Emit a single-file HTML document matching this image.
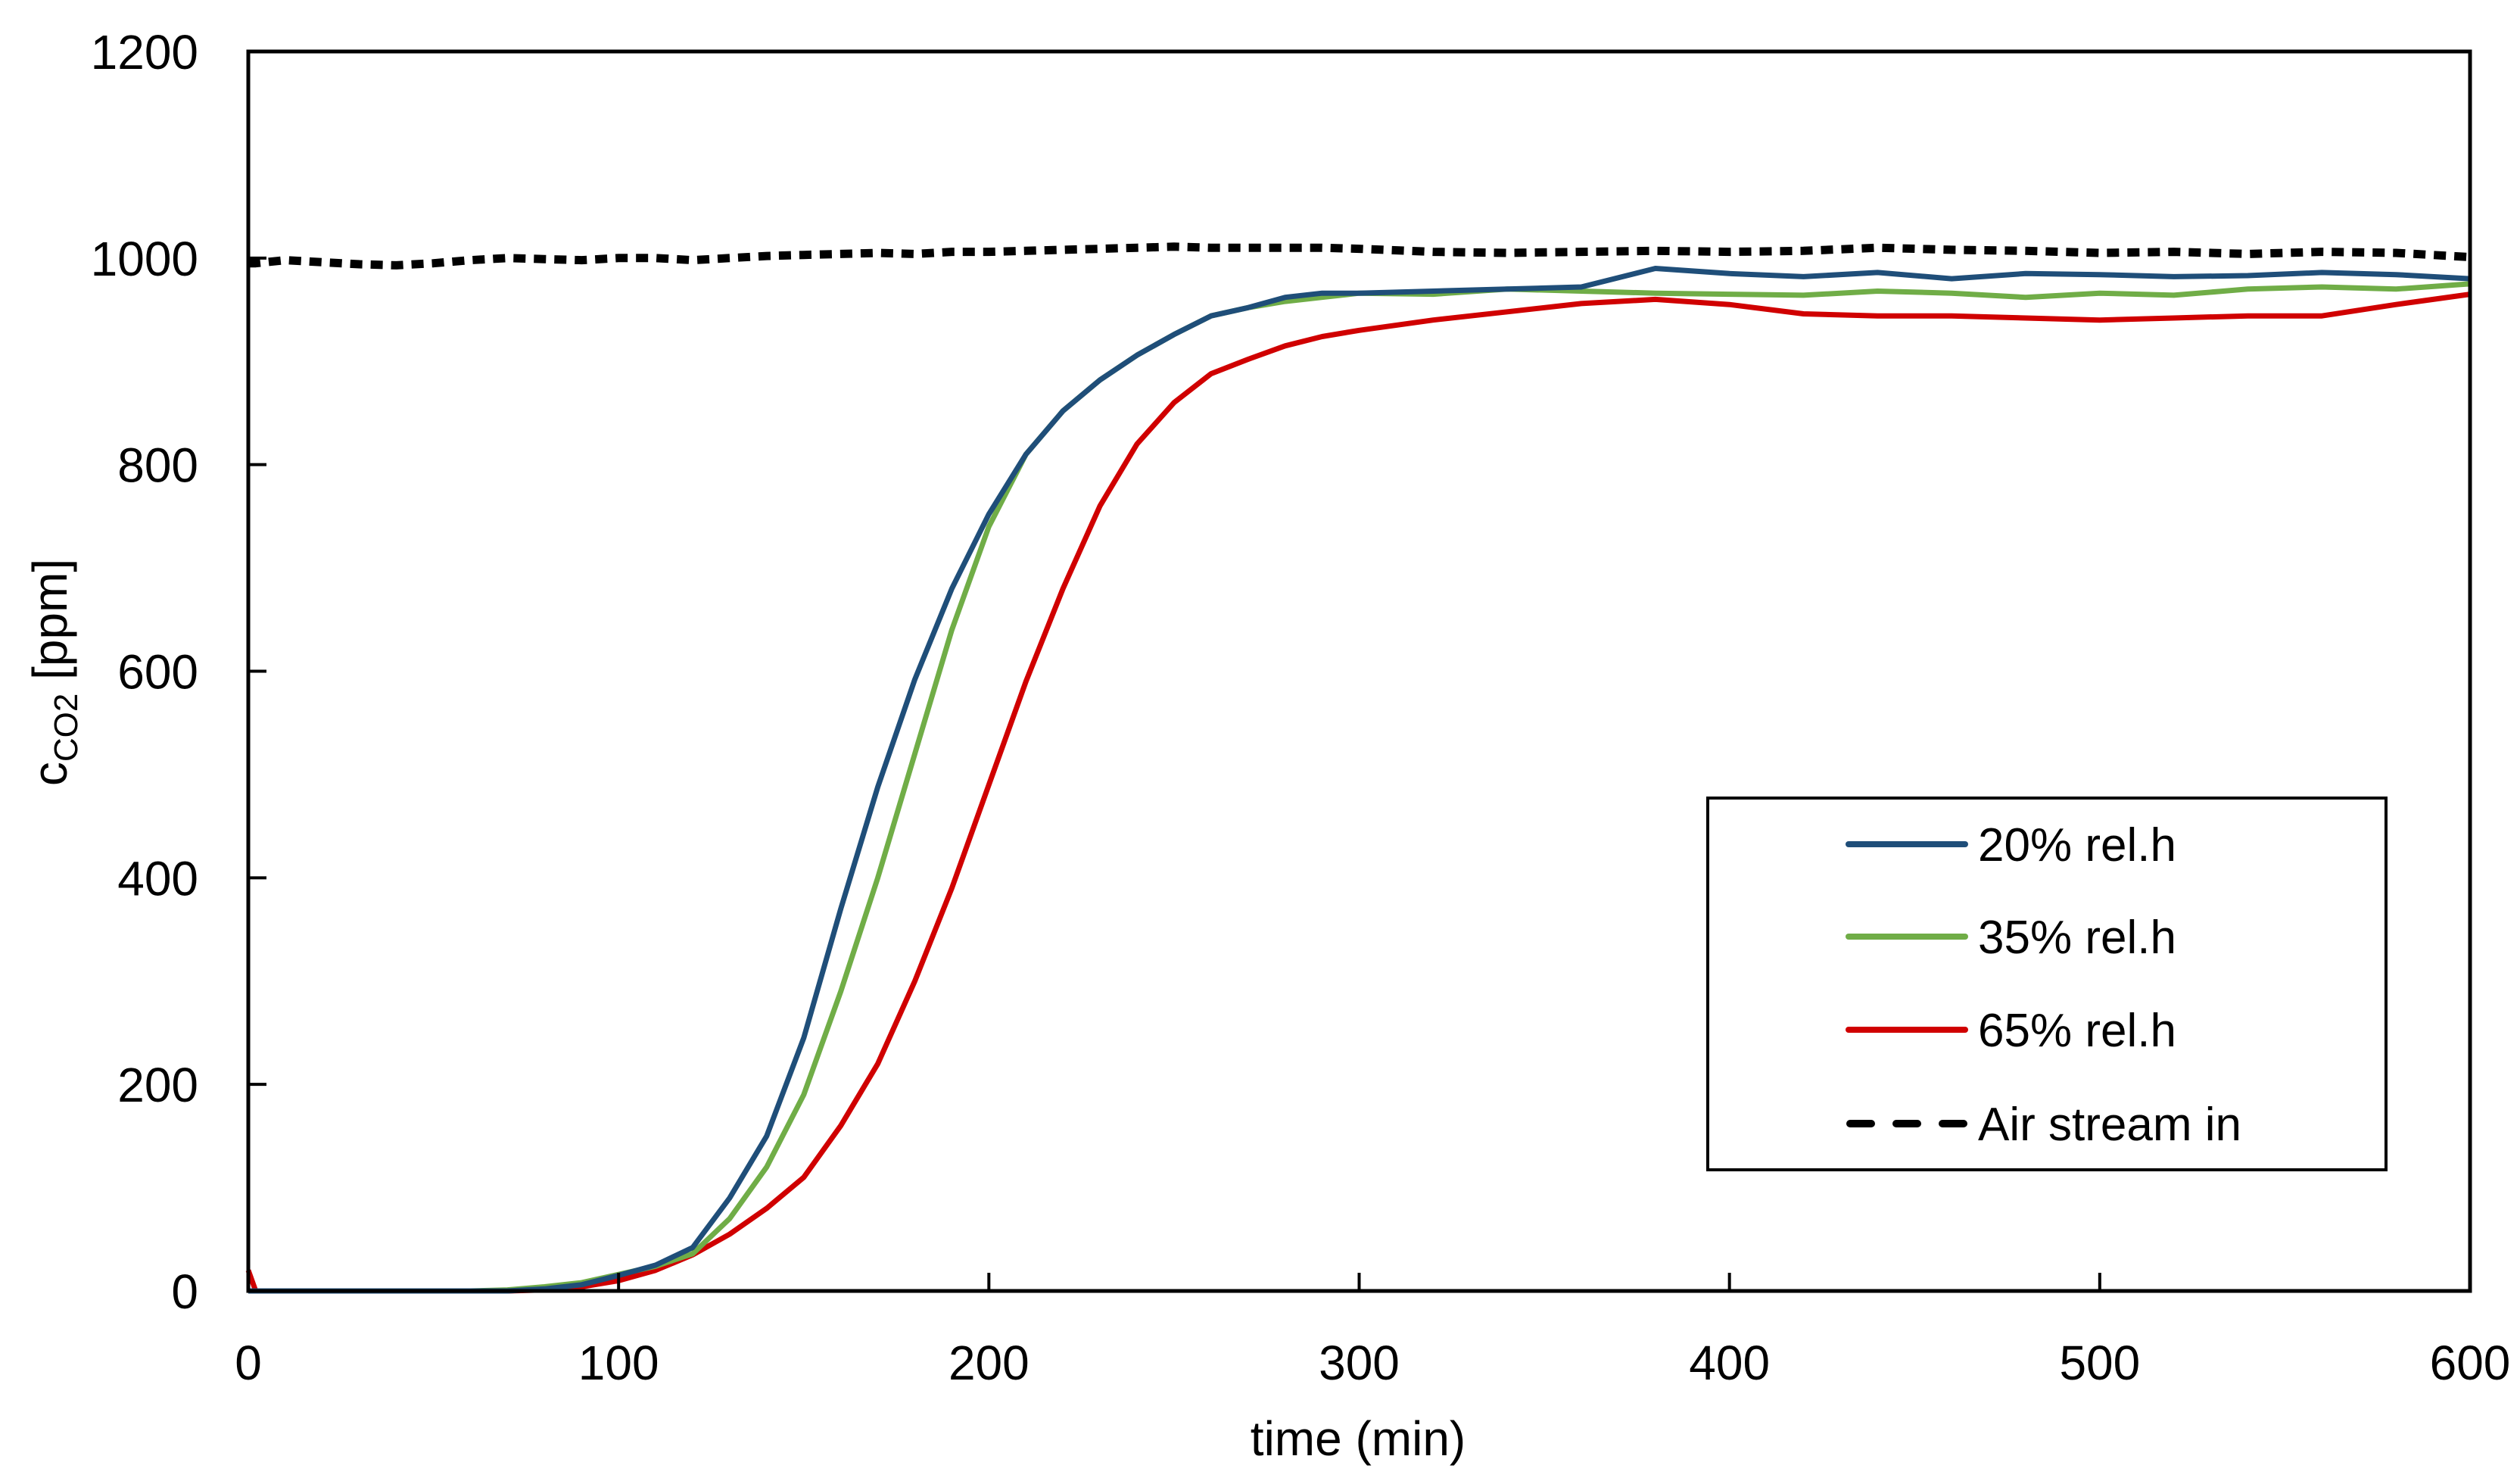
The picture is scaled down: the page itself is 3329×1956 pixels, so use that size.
<!DOCTYPE html>
<html><head><meta charset="utf-8"><style>
html,body{margin:0;padding:0;background:#fff}
svg{display:block;font-family:"Liberation Sans",sans-serif}
</style></head><body>
<svg id="chart" width="3329" height="1956" viewBox="0 0 3329 1956" xmlns="http://www.w3.org/2000/svg">
<rect x="0" y="0" width="3329" height="1956" fill="#fff"/>
<g id="series"></g>
<g id="axes"></g>
<rect x="328" y="68" width="2935" height="1637" fill="none" stroke="#000" stroke-width="5"/>
<text x="1794" y="1922" font-size="64" text-anchor="middle">time (min)</text>
<text transform="translate(88,888) rotate(-90)" font-size="64" text-anchor="middle">c<tspan font-size="44" dy="14">CO2</tspan><tspan dy="-14"> [ppm]</tspan></text>
<g>
<rect x="2256" y="1054" width="896" height="491" fill="#fff" stroke="#000" stroke-width="4"/>
<line x1="2442" y1="1115" x2="2596" y2="1115" stroke="#1f4e79" stroke-width="8" stroke-linecap="round"/>
<text x="2613" y="1137" font-size="62">20% rel.h</text>
<line x1="2442" y1="1237" x2="2596" y2="1237" stroke="#70ad47" stroke-width="8" stroke-linecap="round"/>
<text x="2613" y="1259" font-size="62">35% rel.h</text>
<line x1="2442" y1="1360" x2="2596" y2="1360" stroke="#d00000" stroke-width="8" stroke-linecap="round"/>
<text x="2613" y="1382" font-size="62">65% rel.h</text>
<line x1="2444" y1="1484" x2="2596" y2="1484" stroke="#000" stroke-width="10" stroke-linecap="round" stroke-dasharray="28 33"/>
<text x="2613" y="1506" font-size="62">Air stream in</text>
</g>
</svg>
<script>
const times = [0,2,10,20,30,40,50,60,70,80,90,100,110,120,130,140,150,160,170,180,190,200,210,220,230,240,250,260,270,280,290,300,320,340,360,380,400,420,440,460,480,500,520,540,560,580,600];
const rh20 = [0,0,0,0,0,0,0,0,0,2,6,15,25,42,90,150,245,370,488,592,680,752,810,852,882,906,926,944,952,962,966,966,968,970,972,990,985,982,986,980,985,984,982,983,986,984,980];
const rh35 = [0,0,0,0,0,0,0,0,1,4,8,16,24,36,70,120,190,290,400,520,640,740,810,852,882,906,926,944,952,958,962,966,965,970,968,966,965,964,968,966,962,966,964,970,972,970,975];
const rh65 = [20,0,0,0,0,0,0,0,0,1,4,10,20,35,55,80,110,160,220,300,390,490,590,680,760,820,860,888,902,915,924,930,940,948,956,960,955,946,944,944,942,940,942,944,944,955,965];
const airIn = [995,995,998,996,994,993,995,998,1000,999,998,1000,1000,998,1000,1002,1003,1004,1005,1004,1006,1006,1007,1008,1009,1010,1011,1010,1010,1010,1010,1009,1006,1005,1006,1007,1006,1007,1010,1008,1007,1005,1006,1004,1006,1005,1001];
const xTicks = [0,100,200,300,400,500,600];
const yTicks = [0,200,400,600,800,1000,1200];

const L=328,R=3263,T=68,B=1705;
const xs = v => L + (v/600)*(R-L);
const ys = v => B - (v/1200)*(B-T);
const NS="http://www.w3.org/2000/svg";
const sg=document.getElementById('series'), ag=document.getElementById('axes');

function addLine(vals, color, name, dash){
  const p=document.createElementNS(NS,'path');
  let d='';
  vals.forEach((v,i)=>{ d+=(i?'L':'M')+xs(times[i]).toFixed(1)+','+ys(v).toFixed(1); });
  p.setAttribute('d',d);
  p.setAttribute('fill','none');
  p.setAttribute('stroke',color);
  p.setAttribute('stroke-width',dash?'11':'7');
  p.setAttribute('stroke-linejoin','round');
  if(dash){p.setAttribute('stroke-dasharray','16 11');}
  
  
  sg.appendChild(p);
}
addLine(airIn,'#000','series-air-stream-in',true);
addLine(rh65,'#d00000','series-65-rh',false);
addLine(rh35,'#70ad47','series-35-rh',false);
addLine(rh20,'#1f4e79','series-20-rh',false);

xTicks.forEach(v=>{
  const l=document.createElementNS(NS,'line');
  l.setAttribute('x1',xs(v));l.setAttribute('x2',xs(v));l.setAttribute('y1',B);l.setAttribute('y2',B-24);
  l.setAttribute('stroke','#000');l.setAttribute('stroke-width','4');
  
  
  ag.appendChild(l);
  const t=document.createElementNS(NS,'text');
  t.setAttribute('x',xs(v));t.setAttribute('y',1822);t.setAttribute('font-size','64');t.setAttribute('text-anchor','middle');
  t.textContent=v;
  
  
  ag.appendChild(t);
});
yTicks.forEach(v=>{
  const l=document.createElementNS(NS,'line');
  l.setAttribute('x1',L);l.setAttribute('x2',L+24);l.setAttribute('y1',ys(v));l.setAttribute('y2',ys(v));
  l.setAttribute('stroke','#000');l.setAttribute('stroke-width','4');
  
  
  ag.appendChild(l);
  const t=document.createElementNS(NS,'text');
  t.setAttribute('x',262);t.setAttribute('y',ys(v)+23);t.setAttribute('font-size','64');t.setAttribute('text-anchor','end');
  t.textContent=v;
  
  
  ag.appendChild(t);
});
</script>
</body></html>
